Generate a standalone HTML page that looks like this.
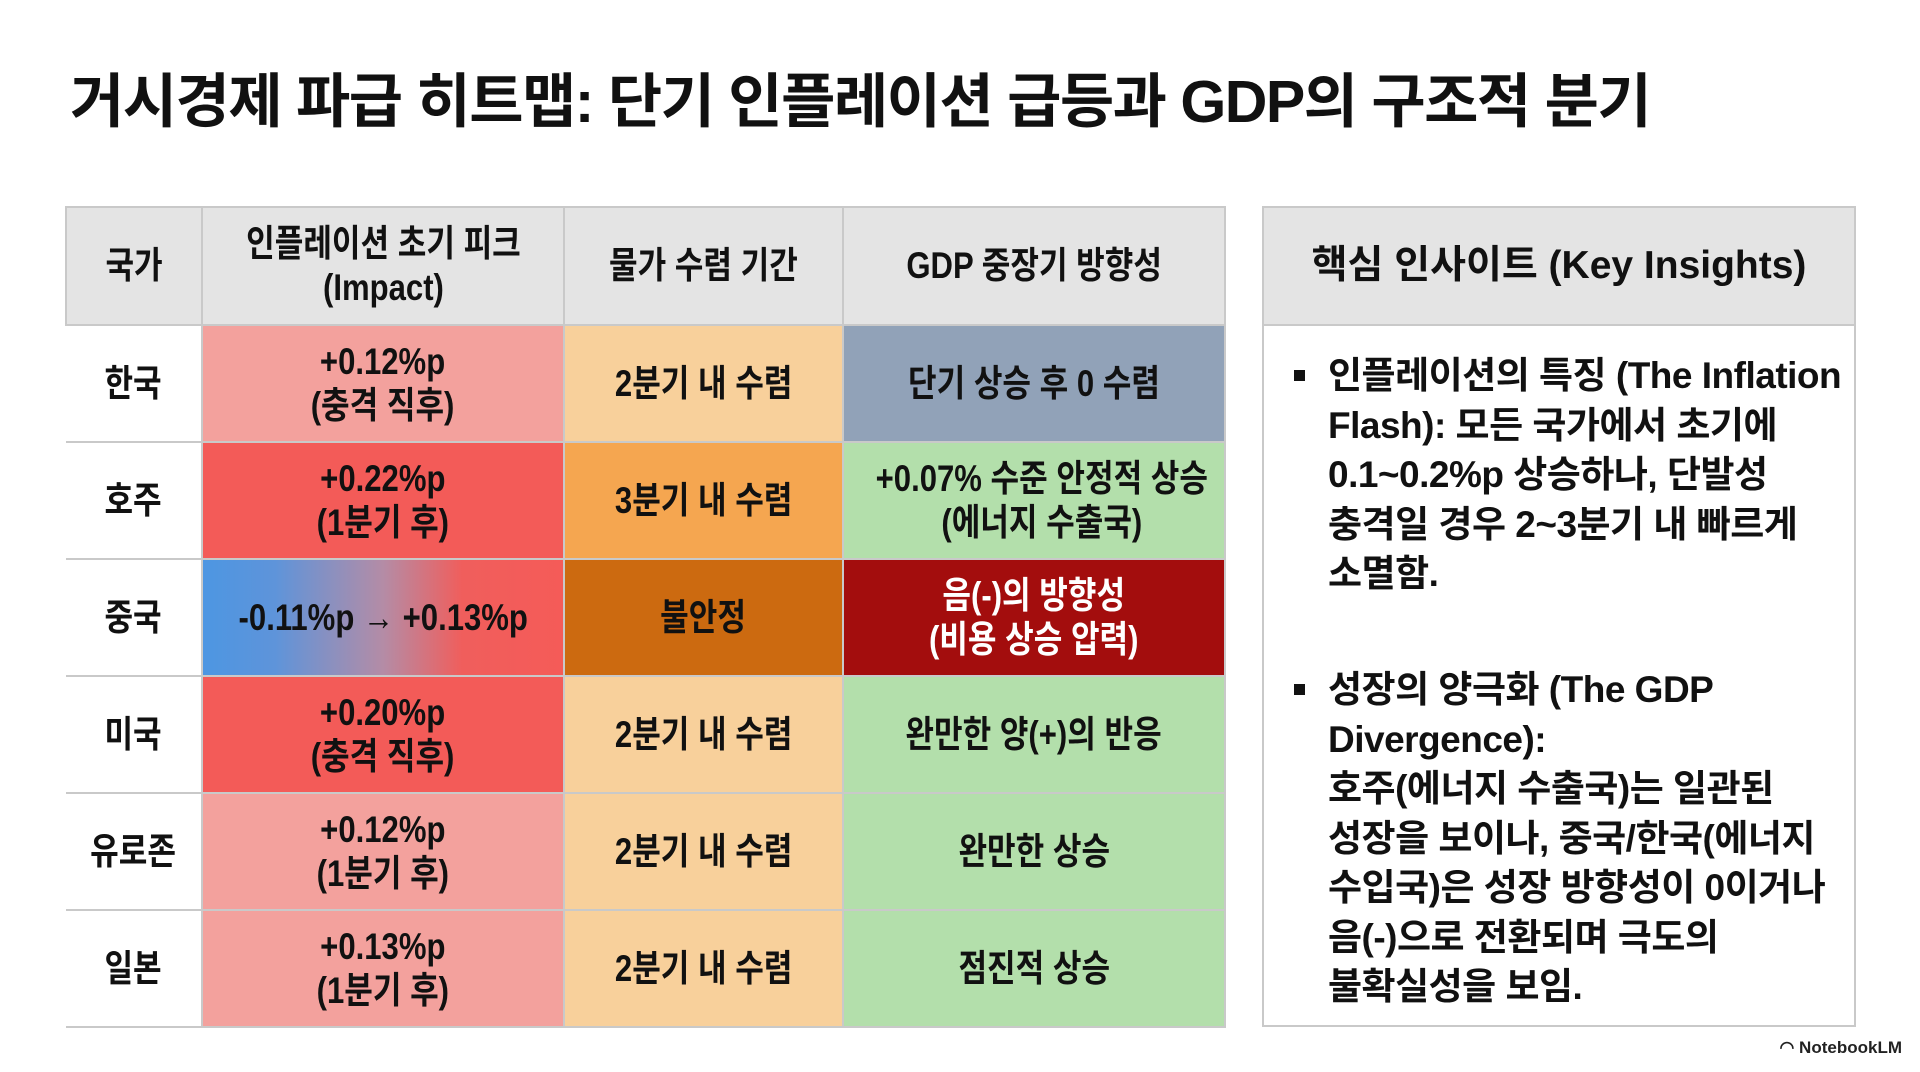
<!DOCTYPE html>
<html lang="ko"><head><meta charset="utf-8">
<style>
*{margin:0;padding:0;box-sizing:border-box}
body{width:1920px;height:1072px;background:#fff;position:relative;overflow:hidden;font-family:"Liberation Sans","Noto Sans CJK KR",sans-serif;color:#111}
#title{position:absolute;left:70px;top:54px;font-size:59px;font-weight:bold;letter-spacing:-1.5px;white-space:nowrap}
table{position:absolute;left:65px;top:206px;width:1159px;border-collapse:collapse;table-layout:fixed}
td,th{border:2px solid #c9c9c9;text-align:center;vertical-align:middle;font-size:37px;font-weight:bold;line-height:44px;height:117px;padding:0}
th{background:#e4e4e4;height:118px}
td span,th span{display:inline-block;transform:scaleX(0.84);white-space:nowrap}
td.c{background:#fff}
table tr td:first-child{border-left:none}
#panel{position:absolute;left:1262px;top:206px;width:594px;height:821px;border:2px solid #c9c9c9}
#phead{height:118px;background:#e4e4e4;border-bottom:2px solid #c9c9c9;text-align:center;line-height:116px;font-size:39px;font-weight:bold}
.bul{position:absolute;left:30px;font-size:37px;font-weight:bold;line-height:49.5px;width:560px;word-break:keep-all;letter-spacing:-0.5px}
.bul p{padding-left:34px;position:relative}
.bul p::before{content:"";position:absolute;left:0;top:19px;width:11px;height:11px;background:#111}
#logo{position:absolute;right:18px;top:1038px;font-size:17px;font-weight:bold;color:#222}
</style></head><body>
<div id="title">거시경제 파급 히트맵: 단기 인플레이션 급등과 GDP의 구조적 분기</div>
<table>
<colgroup><col style="width:136px"><col style="width:362px"><col style="width:279px"><col style="width:382px"></colgroup>
<tr>
<th><span>국가</span></th>
<th><span>인플레이션 초기 피크<br>(Impact)</span></th>
<th><span>물가 수렴 기간</span></th>
<th><span>GDP 중장기 방향성</span></th>
</tr>
<tr>
<td class="c"><span>한국</span></td>
<td style="background:#f3a19d"><span>+0.12%p<br>(충격 직후)</span></td>
<td style="background:#f8d09b"><span>2분기 내 수렴</span></td>
<td style="background:#91a2b8"><span>단기 상승 후 0 수렴</span></td>
</tr>
<tr>
<td class="c"><span>호주</span></td>
<td style="background:#f35b58"><span>+0.22%p<br>(1분기 후)</span></td>
<td style="background:#f5a650"><span>3분기 내 수렴</span></td>
<td style="background:#b3dfab"><span>+0.07% 수준 안정적 상승<br>(에너지 수출국)</span></td>
</tr>
<tr>
<td class="c"><span>중국</span></td>
<td style="background:linear-gradient(90deg,#4d96e2 0%,#5e94da 20%,#b48ca6 50%,#f05e5c 72%,#f55b58 100%)"><span>-0.11%p → +0.13%p</span></td>
<td style="background:#cc6a10"><span>불안정</span></td>
<td style="background:#a30d0d;color:#fff"><span>음(-)의 방향성<br>(비용 상승 압력)</span></td>
</tr>
<tr>
<td class="c"><span>미국</span></td>
<td style="background:#f35b58"><span>+0.20%p<br>(충격 직후)</span></td>
<td style="background:#f8d09b"><span>2분기 내 수렴</span></td>
<td style="background:#b3dfab"><span>완만한 양(+)의 반응</span></td>
</tr>
<tr>
<td class="c"><span>유로존</span></td>
<td style="background:#f3a19d"><span>+0.12%p<br>(1분기 후)</span></td>
<td style="background:#f8d09b"><span>2분기 내 수렴</span></td>
<td style="background:#b3dfab"><span>완만한 상승</span></td>
</tr>
<tr>
<td class="c"><span>일본</span></td>
<td style="background:#f3a19d"><span>+0.13%p<br>(1분기 후)</span></td>
<td style="background:#f8d09b"><span>2분기 내 수렴</span></td>
<td style="background:#b3dfab"><span>점진적 상승</span></td>
</tr>
</table>
<div id="panel">
<div id="phead">핵심 인사이트 (Key Insights)</div>
<div class="bul" style="top:143px"><p>인플레이션의 특징 (The Inflation<br>Flash): 모든 국가에서 초기에<br>0.1~0.2%p 상승하나, 단발성<br>충격일 경우 2~3분기 내 빠르게<br>소멸함.</p></div>
<div class="bul" style="top:457px"><p>성장의 양극화 (The GDP<br>Divergence):<br>호주(에너지 수출국)는 일관된<br>성장을 보이나, 중국/한국(에너지<br>수입국)은 성장 방향성이 0이거나<br>음(-)으로 전환되며 극도의<br>불확실성을 보임.</p></div>
</div>
<div id="logo">◠ NotebookLM</div>
</body></html>
